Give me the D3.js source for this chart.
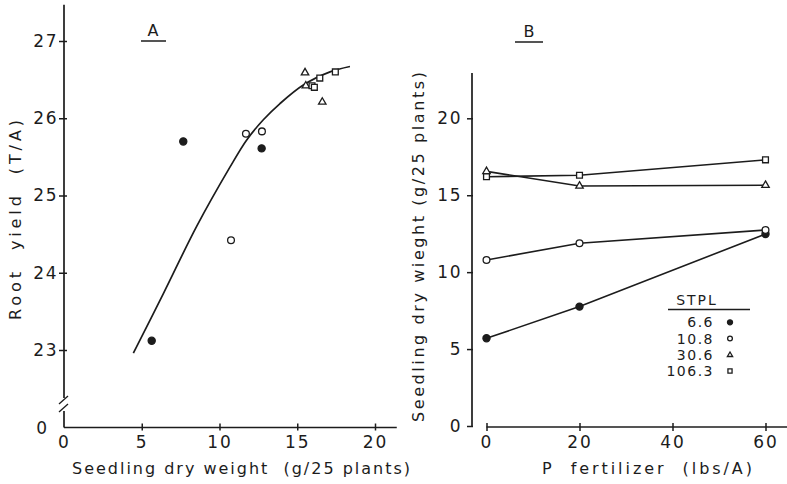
<!DOCTYPE html>
<html>
<head>
<meta charset="utf-8">
<script src="https://cdn.jsdelivr.net/npm/d3@7"></script>
<style>
  body { margin: 0; background: #fff; }
  svg text { font-family: 'DejaVu Sans', sans-serif; fill: #1c1c1c; white-space: pre; }
</style>
</head>
<body>
<script>
// panel A: root yield vs seedling dry weight
const aXTicks = [0, 5, 10, 15, 20];
const aYTicks = [23, 24, 25, 26, 27];
const aFilled = [[5.64, 23.12], [7.67, 25.70], [12.71, 25.61]];
const aOpen = [[10.74, 24.42], [11.70, 25.80], [12.73, 25.83]];
const aTri = [[15.50, 26.59], [15.55, 26.42], [16.61, 26.21]];
const aSquare = [[15.95, 26.42], [16.10, 26.40], [16.45, 26.52], [17.45, 26.60]];
const curveX = [4.46, 6.39, 8.53, 10.68, 11.75, 12.82, 13.89, 15.39, 17.11, 18.39];
const curveY = [22.96, 23.73, 24.60, 25.37, 25.72, 25.98, 26.19, 26.43, 26.60, 26.67];

// panel B: seedling dry weight vs P fertilizer
const pRates = [0, 20, 60];
const bXTicks = [0, 20, 40, 60];
const bYTicks = [0, 5, 10, 15, 20];
const stplLevels = ['6.6', '10.8', '30.6', '106.3'];
const wt66 = [5.70, 7.76, 12.48];
const wt108 = [10.79, 11.88, 12.74];
const wt306 = [16.55, 15.60, 15.65];
const wt1063 = [16.20, 16.30, 17.30];

const ink = '#1c1c1c';
const svg = d3.select('body').append('svg')
  .attr('width', 787)
  .attr('height', 484);

const xA = d3.scaleLinear().domain([0, 20]).range([64, 375]);
const yA = d3.scaleLinear().domain([23, 27]).range([350, 41]);
const xB = d3.scaleLinear().domain([0, 60]).range([486.5, 765.5]);
const yB = d3.scaleLinear().domain([0, 20]).range([426, 118.3]);

const baseA = 427.5;

function marker(g, type, x, y, big) {
  const s = big ? 1 : 0.5;
  const shapes = { filled: d3.symbolCircle, open: d3.symbolCircle, tri: d3.symbolTriangle, square: d3.symbolSquare };
  const areas = { filled: 40, open: 36, tri: 24, square: 34 };
  g.append('path')
    .attr('d', d3.symbol().type(shapes[type]).size(areas[type] * s)())
    .attr('transform', `translate(${x},${y})`)
    .attr('fill', type === 'filled' ? ink : '#fff')
    .attr('stroke', ink)
    .attr('stroke-width', 1.3);
}

// ---------- panel A ----------
const gAy = svg.append('g')
  .attr('transform', 'translate(64,0)')
  .call(d3.axisLeft(yA).tickValues(aYTicks).tickSize(5).tickPadding(1).tickFormat(d3.format('d')));
gAy.select('.domain').remove();
gAy.selectAll('.tick line').attr('x1', 3).attr('x2', -5).attr('stroke', ink).attr('stroke-width', 1.5);
gAy.selectAll('.tick text').attr('font-size', 17).attr('letter-spacing', 1.5).attr('fill', ink).attr('font-family', 'DejaVu Sans');

// broken y axis
svg.append('line').attr('x1', 64).attr('x2', 64).attr('y1', yA(27.47)).attr('y2', 398)
  .attr('stroke', ink).attr('stroke-width', 1.7);
svg.append('line').attr('x1', 64).attr('x2', 64).attr('y1', 411).attr('y2', baseA)
  .attr('stroke', ink).attr('stroke-width', 1.7);
[[59, 404, 68, 396], [59, 412, 68, 404]].forEach(s => {
  svg.append('line').attr('x1', s[0]).attr('y1', s[1]).attr('x2', s[2]).attr('y2', s[3])
    .attr('stroke', ink).attr('stroke-width', 1.4);
});
svg.append('text').attr('x', 47).attr('y', baseA + 6).attr('text-anchor', 'end')
  .attr('font-size', 17).text('0');

const gAx = svg.append('g')
  .attr('transform', `translate(0,${baseA})`)
  .call(d3.axisBottom(xA).tickValues(aXTicks).tickSize(4));
gAx.select('.domain').remove();
gAx.selectAll('.tick line').attr('y1', -4).attr('y2', 3).attr('stroke', ink).attr('stroke-width', 1.5)
  .filter(d => d === 0).remove();
gAx.selectAll('.tick text').attr('y', 20).attr('dy', 0).attr('font-size', 17)
  .attr('letter-spacing', 2).attr('fill', ink).attr('font-family', 'DejaVu Sans');
svg.append('line').attr('x1', 64).attr('x2', xA(21.4)).attr('y1', baseA).attr('y2', baseA)
  .attr('stroke', ink).attr('stroke-width', 1.7);

// fitted curve
const curvePts = curveX.map((x, i) => [x, curveY[i]]);
svg.append('path')
  .datum(curvePts)
  .attr('d', d3.line().x(d => xA(d[0])).y(d => yA(d[1])).curve(d3.curveCatmullRom))
  .attr('fill', 'none')
  .attr('stroke', ink)
  .attr('stroke-width', 1.7);

const gA = svg.append('g');
aFilled.forEach(d => marker(gA, 'filled', xA(d[0]), yA(d[1]), true));
aOpen.forEach(d => marker(gA, 'open', xA(d[0]), yA(d[1]), true));
aTri.forEach(d => marker(gA, 'tri', xA(d[0]), yA(d[1]), true));
aSquare.forEach(d => marker(gA, 'square', xA(d[0]), yA(d[1]), true));

svg.append('text').attr('x', 153).attr('y', 36).attr('text-anchor', 'middle')
  .attr('font-size', 16).text('A');
svg.append('line').attr('x1', 141).attr('x2', 166).attr('y1', 41).attr('y2', 41)
  .attr('stroke', ink).attr('stroke-width', 1.5);

svg.append('text')
  .attr('transform', 'translate(21,220) rotate(-90)')
  .attr('text-anchor', 'middle')
  .attr('font-size', 16)
  .attr('textLength', 200)
  .attr('lengthAdjust', 'spacing')
  .text('Root  yield  (T/A)');

svg.append('text')
  .attr('x', 72).attr('y', 474)
  .attr('font-size', 16)
  .attr('textLength', 338)
  .attr('lengthAdjust', 'spacing')
  .text('Seedling dry weight  (g/25 plants)');

// ---------- panel B ----------
const gBy = svg.append('g')
  .attr('transform', 'translate(472,0)')
  .call(d3.axisLeft(yB).tickValues(bYTicks).tickSize(5).tickPadding(5));
gBy.select('.domain').remove();
gBy.selectAll('.tick line').attr('x1', 1).attr('x2', -5).attr('stroke', ink).attr('stroke-width', 1.5);
gBy.selectAll('.tick text').attr('font-size', 17).attr('letter-spacing', 1.5).attr('fill', ink).attr('font-family', 'DejaVu Sans');
svg.append('line').attr('x1', 472).attr('x2', 472).attr('y1', 73).attr('y2', 426)
  .attr('stroke', ink).attr('stroke-width', 1.7);

const gBx = svg.append('g')
  .attr('transform', 'translate(0,427)')
  .call(d3.axisBottom(xB).tickValues(bXTicks).tickSize(4));
gBx.select('.domain').remove();
gBx.selectAll('.tick line').attr('y1', -4).attr('y2', 4).attr('stroke', ink).attr('stroke-width', 1.5);
gBx.selectAll('.tick text').attr('y', 21).attr('dy', 0).attr('font-size', 17)
  .attr('letter-spacing', 2).attr('fill', ink).attr('font-family', 'DejaVu Sans');
svg.append('line').attr('x1', xB(0)).attr('x2', 787).attr('y1', 427).attr('y2', 427)
  .attr('stroke', ink).attr('stroke-width', 1.7);

const seriesB = [
  { vals: wt66, type: 'filled' },
  { vals: wt108, type: 'open' },
  { vals: wt306, type: 'tri' },
  { vals: wt1063, type: 'square' }
];
const lineB = d3.line().x((d, i) => xB(pRates[i])).y(d => yB(d));
const gB = svg.append('g');
seriesB.forEach(s => {
  gB.append('path').datum(s.vals).attr('d', lineB)
    .attr('fill', 'none').attr('stroke', ink).attr('stroke-width', 1.6);
});
seriesB.forEach(s => {
  s.vals.forEach((v, i) => marker(gB, s.type, xB(pRates[i]), yB(v), true));
});

svg.append('text').attr('x', 529).attr('y', 37).attr('text-anchor', 'middle')
  .attr('font-size', 16).text('B');
svg.append('line').attr('x1', 515).attr('x2', 543).attr('y1', 42).attr('y2', 42)
  .attr('stroke', ink).attr('stroke-width', 1.5);

svg.append('text')
  .attr('transform', 'translate(424,247) rotate(-90)')
  .attr('text-anchor', 'middle')
  .attr('font-size', 16)
  .attr('textLength', 350)
  .attr('lengthAdjust', 'spacing')
  .text('Seedling dry wieght (g/25 plants)');

svg.append('text')
  .attr('x', 542).attr('y', 474)
  .attr('font-size', 16)
  .attr('textLength', 210)
  .attr('lengthAdjust', 'spacing')
  .text('P  fertilizer  (lbs/A)');

// legend
const leg = svg.append('g');
leg.append('text').attr('x', 697).attr('y', 305).attr('text-anchor', 'middle')
  .attr('font-size', 14).attr('letter-spacing', 2).text('STPL');
leg.append('line').attr('x1', 668).attr('x2', 750).attr('y1', 309.5).attr('y2', 309.5)
  .attr('stroke', ink).attr('stroke-width', 1.3);
const legY = [322.3, 338.5, 355, 371];
stplLevels.forEach((lab, i) => {
  leg.append('text').attr('x', 714).attr('y', legY[i] + 5).attr('text-anchor', 'end')
    .attr('font-size', 14).attr('letter-spacing', 1.5).text(lab);
  marker(leg, seriesB[i].type, 730, legY[i], false);
});
</script>
</body>
</html>
